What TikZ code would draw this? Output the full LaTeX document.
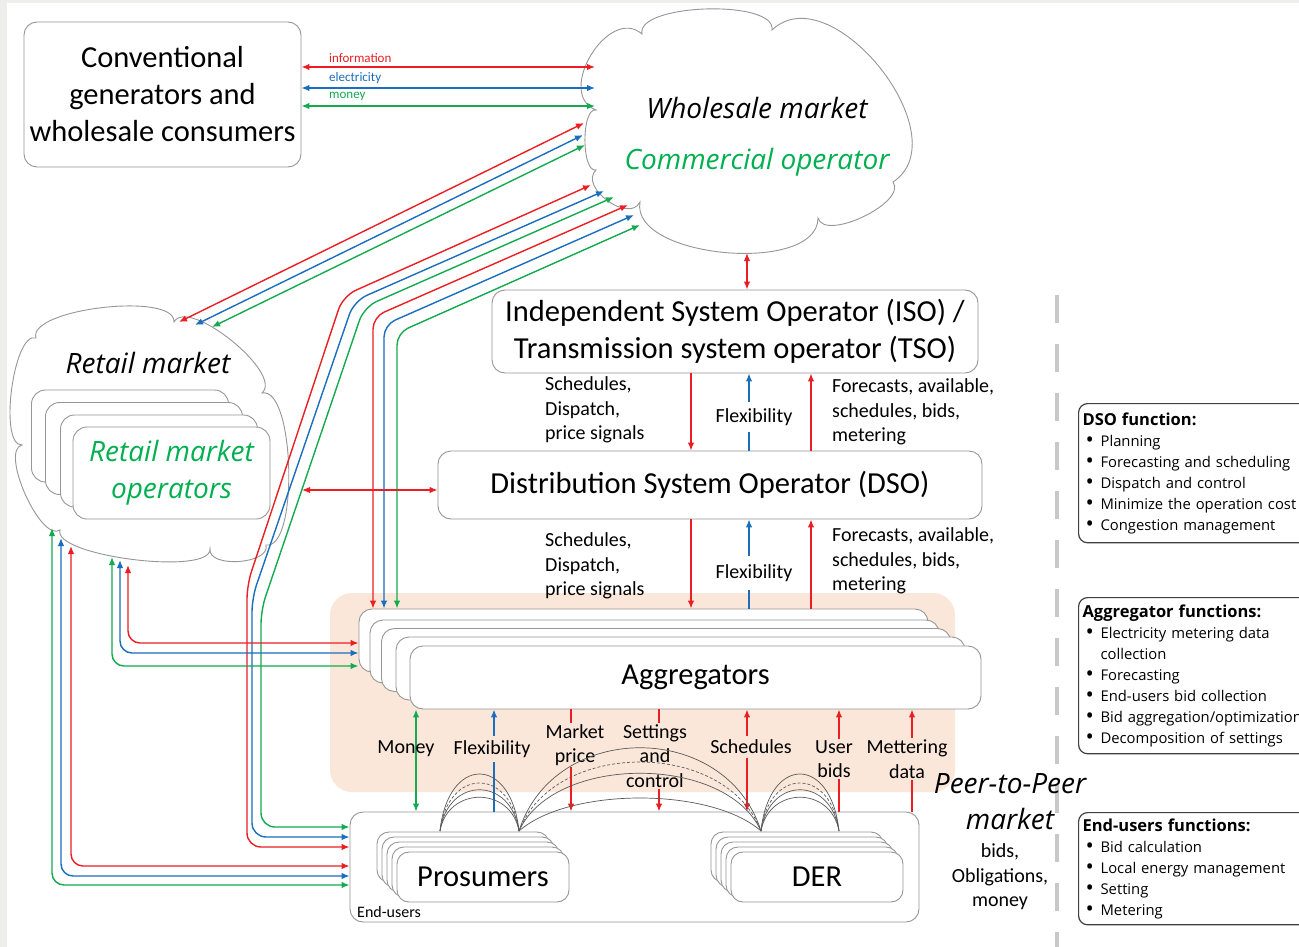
\documentclass[tikz,border=0pt]{standalone}
\usepackage{fontspec}
\setmainfont{Carlito}
\newfontfamily\osans{Open Sans}
\usetikzlibrary{arrows.meta,calc}

\definecolor{infored}{RGB}{235,30,35}
\definecolor{elecblue}{RGB}{25,110,190}
\definecolor{moneygreen}{RGB}{20,170,80}
\definecolor{textgreen}{RGB}{0,176,80}
\definecolor{peach}{RGB}{251,231,217}
\definecolor{edgegray}{RGB}{150,150,150}
\definecolor{arcgray}{RGB}{90,90,90}
\definecolor{framegray}{RGB}{238,238,236}
\definecolor{sepgray}{RGB}{200,200,200}

% bullet line for the function lists
\newcommand\fitem{\makebox[18pt][l]{\hspace{3pt}{\fontsize{22}{21}\selectfont\raisebox{-1.5pt}{\textbullet}}}}
\newcommand\fcont{\makebox[18pt][l]{}}
\newcommand\ftitle[1]{{\fontsize{16.5}{21}\selectfont\bfseries #1}}

\begin{document}
\begin{tikzpicture}[x=1pt,y=-1pt,
  >={Latex[length=8pt,width=6.5pt]},
  panel/.style={draw=edgegray,line width=0.9pt,fill=white,rounded corners=13pt,inner sep=0pt},
  bigtext/.style={font=\fontsize{30.5}{37}\selectfont,align=center},
  lbl/.style={font=\fontsize{20}{24.5}\selectfont,align=left,inner sep=1pt},
  clabel/.style={font=\fontsize{20}{24.5}\selectfont,align=center,inner xsep=1pt,inner ysep=1.5pt},
  cloudtext/.style={font=\osans\itshape\fontsize{28}{37}\selectfont,align=center,inner sep=0pt},
  cloudline/.style={draw=edgegray,line width=0.9pt,fill=white},
  info/.style={draw=infored,line width=1.4pt},
  elec/.style={draw=elecblue,line width=1.4pt},
  cash/.style={draw=moneygreen,line width=1.4pt},
  p2p/.style={draw=arcgray,line width=0.7pt},
  fnbox/.style={draw=black!75,line width=1.2pt,rounded corners=9pt,fill=white,anchor=north west,
    align=left,inner xsep=4pt,font=\osans\fontsize{14.8}{21}\selectfont,text width=240pt},
]

% canvas
\fill[framegray] (0,0) rectangle (1299,947);
\fill[white] (7,3) rectangle (1299,947);
\useasboundingbox (0,0) rectangle (1299,947);

% aggregator area
\fill[peach,rounded corners=22pt] (330,593) rectangle (955,792);

% separator
\draw[sepgray,line width=4pt,dash pattern=on 28pt off 21pt] (1057,295) -- (1057,947);

% ---------- wholesale market cloud ----------
\coordinate (w1) at (596,110);
\coordinate (w2) at (642,34);
\coordinate (w3) at (772,30);
\coordinate (w4) at (893,182);
\coordinate (w5) at (818,218);
\coordinate (w6) at (640,202);
\coordinate (w7) at (596,170);
\draw[cloudline] (w1)
  .. controls ($(w1)!.5!100:(w2)$) and ($(w2)!.5!-100:(w1)$) .. (w2)
  .. controls ($(w2)!.24!100:(w3)$) and ($(w3)!.24!-100:(w2)$) .. (w3)
  .. controls ($(w3)!.42!95:(w4)$) and ($(w4)!.42!-95:(w3)$) .. (w4)
  .. controls ($(w4)!.3!100:(w5)$) and ($(w5)!.3!-100:(w4)$) .. (w5)
  .. controls ($(w5)!.32!95:(w6)$) and ($(w6)!.32!-95:(w5)$) .. (w6)
  .. controls ($(w6)!.45!100:(w7)$) and ($(w7)!.45!-100:(w6)$) .. (w7)
  .. controls ($(w7)!.25!100:(w1)$) and ($(w1)!.25!-100:(w7)$) .. (w1) -- cycle;
\node[cloudtext] (wmt) at (757,108) {Wholesale market};
\node[cloudtext,text=textgreen] (cot) at (757,162) {Commercial operator};

% ---------- retail market cloud ----------
\coordinate (r1) at (36,338);
\coordinate (r2) at (174,322);
\coordinate (r3) at (262,393);
\coordinate (r4) at (266,545);
\coordinate (r5) at (210,549);
\coordinate (r6) at (60,530);
\coordinate (r7) at (22,445);
\draw[cloudline] (r1)
  .. controls ($(r1)!.22!100:(r2)$) and ($(r2)!.22!-100:(r1)$) .. (r2)
  .. controls ($(r2)!.26!100:(r3)$) and ($(r3)!.26!-100:(r2)$) .. (r3)
  .. controls ($(r3)!.22!100:(r4)$) and ($(r4)!.22!-100:(r3)$) .. (r4)
  .. controls ($(r4)!.35!100:(r5)$) and ($(r5)!.35!-100:(r4)$) .. (r5)
  .. controls ($(r5)!.18!100:(r6)$) and ($(r6)!.18!-100:(r5)$) .. (r6)
  .. controls ($(r6)!.25!100:(r7)$) and ($(r7)!.25!-100:(r6)$) .. (r7)
  .. controls ($(r7)!.22!100:(r1)$) and ($(r1)!.22!-100:(r7)$) .. (r1) -- cycle;
\node[cloudtext] (rmt) at (148,363) {Retail market};
\node[panel,rounded corners=14pt,minimum width=197pt,minimum height=92pt] (rmo1) at (130,436) {};
\node[panel,rounded corners=14pt,minimum width=197pt,minimum height=92pt] (rmo2) at (144,448.5) {};
\node[panel,rounded corners=14pt,minimum width=197pt,minimum height=92pt] (rmo3) at (159,461) {};
\node[panel,rounded corners=14pt,minimum width=197pt,minimum height=92pt,cloudtext,text=textgreen] (rmo) at (171.5,473) {Retail market\\operators};

% ---------- boxes ----------
\node[panel,bigtext,minimum width=277pt,minimum height=145pt] (conv) at (162.5,94.5)
  {Conventional\\generators and\\wholesale consumers};
\node[panel,bigtext,minimum width=486pt,minimum height=83pt] (iso) at (735,331.5)
  {Independent System Operator (ISO) /\\Transmission system operator (TSO)};
\node[panel,bigtext,minimum width=544pt,minimum height=68pt] (dso) at (710,485)
  {Distribution System Operator (DSO)};

\node[panel,minimum width=569pt,minimum height=63pt] (aggb1) at (643.5,640.5) {};
\node[panel,minimum width=569pt,minimum height=63pt] (aggb2) at (654.5,651.5) {};
\node[panel,minimum width=569pt,minimum height=63pt] (aggb3) at (666,660) {};
\node[panel,minimum width=569pt,minimum height=63pt] (aggb4) at (680.5,668.5) {};
\node[panel,bigtext,minimum width=571pt,minimum height=63pt] (agg) at (695.5,677.5) {Aggregators};

\node[panel,minimum width=569pt,minimum height=110pt] (eu) at (634.5,867) {};
\node[font=\fontsize{16}{19}\selectfont,anchor=west,inner sep=0pt] (eul) at (357,912) {End-users};

\foreach \k/\d in {1/-20,2/-15,3/-10,4/-5}{
  \node[panel,rounded corners=12pt,minimum width=172pt,minimum height=50pt] (pr\k) at (483+\d,877+\d) {};
  \node[panel,rounded corners=12pt,minimum width=172pt,minimum height=50pt] (der\k) at (817+\d,877+\d) {};
}
\node[panel,rounded corners=12pt,minimum width=172pt,minimum height=50pt,bigtext] (pro) at (483,877) {Prosumers};
\node[panel,rounded corners=12pt,minimum width=172pt,minimum height=50pt,bigtext] (der) at (817,877) {DER};

% ---------- conventional <-> wholesale ----------
\coordinate (wmi) at (595,67);
\coordinate (wme) at (595,88);
\coordinate (wmm) at (595,106);
\draw[info,<->] (conv.east |- wmi) -- (wmi);
\draw[elec,<->] (conv.east |- wme) -- (wme);
\draw[cash,<->] (conv.east |- wmm) -- (wmm);
\node[font=\fontsize{13}{15}\selectfont,text=infored,anchor=west,inner sep=0pt] (linfo) at (329,58) {information};
\node[font=\fontsize{13}{15}\selectfont,text=elecblue,anchor=west,inner sep=0pt] (lelec) at (329,78) {electricity};
\node[font=\fontsize{13}{15}\selectfont,text=moneygreen,anchor=west,inner sep=0pt] (lmon) at (329,96) {money};

% wholesale <-> ISO
\coordinate (wmb) at (747,253);
\draw[info,<->] (wmb) -- (wmb |- iso.north);

% wholesale <-> retail
\coordinate (wa1) at (584,123);
\coordinate (wa2) at (583,135);
\coordinate (wa3) at (585,145);
\coordinate (ra1) at (179,322);
\coordinate (ra2) at (195,325);
\coordinate (ra3) at (212,327);
\draw[info,<->] (wa1) -- (ra1);
\draw[elec,<->] (wa2) -- (ra2);
\draw[cash,<->] (wa3) -- (ra3);

% wholesale <-> end-users
\coordinate (wb1) at (591,185);
\coordinate (wb2) at (604,191);
\coordinate (wb3) at (614,197);
\draw[info,<->,rounded corners=14pt] (wb1) -- (343,296) -- (247,585) -- (247,847) -- (eu.west |- 0,847);
\draw[elec,<->,rounded corners=14pt] (wb2) -- (354,301) -- (252,598) -- (252,837) -- (eu.west |- 0,837);
\draw[cash,<->,rounded corners=14pt] (wb3) -- (364,307) -- (261,610) -- (261,827) -- (eu.west |- 0,827);

% wholesale <-> aggregators
\coordinate (wc1) at (628,205);
\coordinate (wc2) at (634,215);
\coordinate (wc3) at (640,225);
\draw[info,<->,rounded corners=12pt] (wc1) -- (373,317) -- (373,0 |- aggb1.north);
\draw[elec,<->,rounded corners=12pt] (wc2) -- (384,325) -- (384,0 |- aggb1.north);
\draw[cash,<->,rounded corners=12pt] (wc3) -- (397,333) -- (397,0 |- aggb1.north);

% retail <-> end-users
\coordinate (rl1) at (71,546);
\coordinate (rl2) at (61,538);
\coordinate (rl3) at (52,528);
\draw[info,<->,rounded corners=12pt] (rl1) -- (71,866) -- (eu.west |- 0,866);
\draw[elec,<->,rounded corners=12pt] (rl2) -- (61,876) -- (eu.west |- 0,876);
\draw[cash,<->,rounded corners=12pt] (rl3) -- (52,885) -- (eu.west |- 0,885);

% retail <-> aggregators
\coordinate (rr1) at (128,565);
\coordinate (rr2) at (120,560);
\coordinate (rr3) at (112,557);
\draw[info,<->,rounded corners=12pt] (rr1) -- (128,643) -- (aggb1.west |- 0,643);
\draw[elec,<->,rounded corners=12pt] (rr2) -- (120,653) -- (aggb1.west |- 0,653);
\draw[cash,<->,rounded corners=12pt] (rr3) -- (112,666) -- (aggb1.west |- 0,666);

% retail <-> DSO
\coordinate (rd) at (302,490);
\draw[info,<->] (rd) -- (dso.west |- rd);

% ---------- ISO <-> DSO ----------
\draw[info,->] (691,0 |- iso.south) -- (691,0 |- dso.north);
\draw[elec,->] (749,0 |- dso.north) -- (749,0 |- iso.south);
\draw[info,->] (811,0 |- dso.north) -- (811,0 |- iso.south);
\node[lbl,anchor=west] (s1) at (544,410) {Schedules,\\Dispatch,\\price signals};
\node[lbl,anchor=west] (f1) at (831,412) {Forecasts, available,\\schedules, bids,\\metering};
\node[clabel,fill=white,inner ysep=6pt] (x1) at (754,417) {Flexibility};

% ---------- DSO <-> aggregators ----------
\draw[info,->] (691,0 |- dso.south) -- (691,0 |- aggb1.north);
\draw[elec,->] (749,0 |- aggb1.north) -- (749,0 |- dso.south);
\draw[info,->] (811,0 |- aggb1.north) -- (811,0 |- dso.south);
\node[lbl,anchor=west] (s2) at (544,566) {Schedules,\\Dispatch,\\price signals};
\node[lbl,anchor=west] (f2) at (831,561) {Forecasts, available,\\schedules, bids,\\metering};
\node[clabel,fill=white,inner ysep=8pt] (x2) at (754,573) {Flexibility};

% ---------- aggregators <-> end-users ----------
\draw[cash,<->] (416,0 |- agg.south) -- (416,0 |- eu.north);
\node[clabel] (lm) at (406,749) {Money};
\draw[elec,->] (494,0 |- eu.north) -- (494,0 |- agg.south);
\node[clabel,fill=peach,inner ysep=4pt] (lf) at (492,749) {Flexibility};
\draw[info,->] (571,0 |- agg.south) -- (571,0 |- eu.north);
\node[clabel,fill=peach] (lmp) at (575,745) {Market\\price};
\draw[info,->] (659,0 |- agg.south) -- (659,0 |- eu.north);
\node[clabel,fill=peach] (lsc) at (655,756) {Settings\\and\\control};
\draw[info,<->] (747,0 |- agg.south) -- (747,0 |- eu.north);
\node[clabel,fill=peach,inner ysep=4pt] (lsch) at (751,747) {Schedules};
\draw[info,->] (839,0 |- eu.north) -- (839,0 |- agg.south);
\node[clabel,fill=peach] (lub) at (834,759) {User\\bids};
\draw[info,->] (912,0 |- eu.north) -- (912,0 |- agg.south);
\node[clabel,fill=peach] (lmd) at (907,759) {Mettering\\data};

% ---------- peer-to-peer links ----------
\coordinate (pa) at (440,831);
\coordinate (pb) at (519,831);
\coordinate (da) at (761,831);
\coordinate (db) at (839,831);
\draw[p2p] (pa) .. controls ($(pa)+(8,-76)$) and ($(pb)+(-8,-76)$) .. (pb);
\draw[p2p,dash pattern=on 3pt off 2pt] (pa) .. controls ($(pa)+(8,-64)$) and ($(pb)+(-8,-64)$) .. (pb);
\draw[p2p] (pa) .. controls ($(pa)+(8,-55)$) and ($(pb)+(-8,-55)$) .. (pb);
\draw[p2p] (pa) .. controls ($(pa)+(8,-45)$) and ($(pb)+(-8,-45)$) .. (pb);
\draw[p2p] (da) .. controls ($(da)+(8,-76)$) and ($(db)+(-8,-76)$) .. (db);
\draw[p2p,dash pattern=on 3pt off 2pt] (da) .. controls ($(da)+(8,-64)$) and ($(db)+(-8,-64)$) .. (db);
\draw[p2p] (da) .. controls ($(da)+(8,-55)$) and ($(db)+(-8,-55)$) .. (db);
\draw[p2p] (da) .. controls ($(da)+(8,-45)$) and ($(db)+(-8,-45)$) .. (db);
\draw[p2p] (pb) .. controls ($(pb)+(35,-111)$) and ($(da)+(-35,-111)$) .. (da);
\draw[p2p,dash pattern=on 3pt off 2pt] (pb) .. controls ($(pb)+(35,-92)$) and ($(da)+(-35,-92)$) .. (da);
\draw[p2p] (pb) .. controls ($(pb)+(35,-77)$) and ($(da)+(-35,-77)$) .. (da);
\draw[p2p] (pb) .. controls ($(pb)+(50,-44)$) and ($(da)+(-50,-44)$) .. (da);

\node[cloudtext,font=\osans\itshape\fontsize{28}{36}\selectfont] (p2pt) at (1010,802) {Peer-to-Peer\\market};
\node[clabel] (p2pl) at (1000,877) {bids,\\Obligations,\\money};

% ---------- function lists ----------
\node[fnbox,inner ysep=9pt] (dsof) at (1078,403) {\ftitle{DSO function:}\\
  \fitem Planning\\
  \fitem Forecasting and scheduling\\
  \fitem Dispatch and control\\
  \fitem Minimize the operation cost\\
  \fitem Congestion management};
\node[fnbox,inner ysep=7pt] (aggf) at (1078,597) {\ftitle{Aggregator functions:}\\
  \fitem Electricity metering data\\
  \fcont collection\\
  \fitem Forecasting\\
  \fitem End-users bid collection\\
  \fitem Bid aggregation/optimization\\
  \fitem Decomposition of settings};
\node[fnbox,inner ysep=6pt] (euf) at (1078,812) {\ftitle{End-users functions:}\\
  \fitem Bid calculation\\
  \fitem Local energy management\\
  \fitem Setting\\
  \fitem Metering};

\end{tikzpicture}
\end{document}
